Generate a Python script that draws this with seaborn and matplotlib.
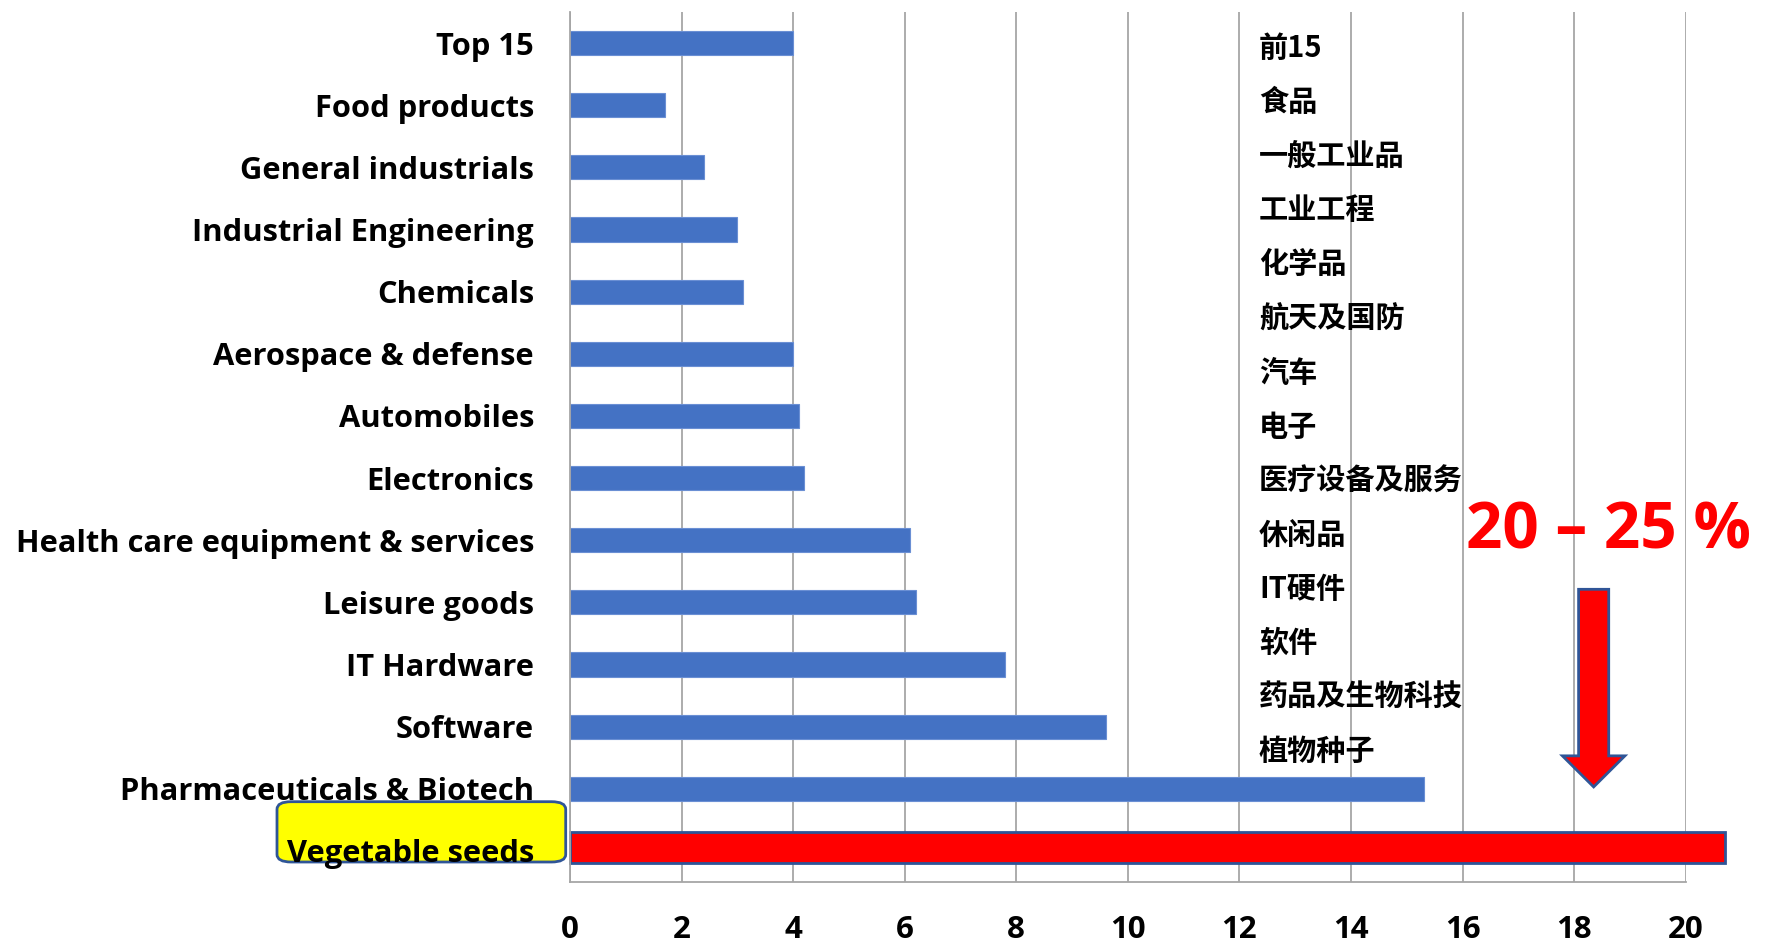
import numpy as np
import matplotlib
matplotlib.use('Agg')
import matplotlib.pyplot as plt
import seaborn as sns
from matplotlib.patches import FancyArrow, FancyBboxPatch

categories = ['Top 15', 'Food products', 'General industrials', 'Industrial Engineering',
              'Chemicals', 'Aerospace & defense', 'Automobiles', 'Electronics',
              'Health care equipment & services', 'Leisure goods', 'IT Hardware',
              'Software', 'Pharmaceuticals & Biotech', 'Vegetable seeds']
values = [4.0, 1.7, 2.4, 3.0, 3.1, 4.0, 4.1, 4.2, 6.1, 6.2, 7.8, 9.6, 15.3, 20.7]
cn_labels = ['前15', '食品', '一般工业品', '工业工程', '化学品', '航天及国防', '汽车', '电子',
             '医疗设备及服务', '休闲品', 'IT硬件', '软件', '药品及生物科技', '植物种子']
x_ticks = [0, 2, 4, 6, 8, 10, 12, 14, 16, 18, 20]
highlight = '20 – 25 %'

sns.set_style('white')
plt.rcParams['font.family'] = ['Open Sans', 'DejaVu Sans']
plt.rcParams['text.color'] = 'black'

W, H = 1769, 943
fig = plt.figure(figsize=(W / 100, H / 100), dpi=100)
ax = fig.add_axes([570 / W, 1 - 882 / H, (1685.7 - 570) / W, (882 - 12) / H])

colors = ['#4472C4'] * (len(categories) - 1) + ['#FF0000']
sns.barplot(x=values, y=categories, hue=categories, palette=colors, legend=False,
            orient='h', width=0.39, saturation=1, ax=ax)

# highlighted bar: thicker, outlined, runs past the last gridline
red = ax.patches[-1]
cy = red.get_y() + red.get_height() / 2
red.set_height(0.5)
red.set_y(cy - 0.25 - 0.06)
red.set_edgecolor('#2F5597')
red.set_linewidth(2)
red.set_clip_on(False)
for p in ax.patches[:-1]:
    p.set_edgecolor('#6A8FD4')
    p.set_linewidth(0.8)

ax.set_xlim(0, 20)
ax.set_ylim(len(categories) - 0.5, -0.5)
ax.set_xticks(x_ticks)
ax.set_xticklabels([str(t) for t in x_ticks], fontsize=22.5, fontweight='bold')
ax.xaxis.grid(True, color='#A6A6A6', linewidth=1.3)
ax.set_axisbelow(True)
ax.tick_params(axis='x', direction='out', length=8, width=1.3, color='#A6A6A6',
               labelcolor='black', pad=16)

ax.set_yticks(range(len(categories)))
ax.set_yticklabels(categories, fontsize=22.2, fontweight='bold')
ax.set_yticks(np.arange(-0.5, len(categories), 1), minor=True)
ax.tick_params(axis='y', which='major', length=0, pad=26, labelcolor='black')
ax.tick_params(axis='y', which='minor', direction='out', length=8, width=1.3, color='#A6A6A6')

for side in ['top', 'right']:
    ax.spines[side].set_visible(False)
for side in ['left', 'bottom']:
    ax.spines[side].set_color('#A6A6A6')
    ax.spines[side].set_linewidth(1.3)
ax.set_xlabel('')
ax.set_ylabel('')

# Chinese label column
for i, lab in enumerate(cn_labels):
    fig.text(1259 / W, 1 - (48 + 54.1 * i) / H, lab, fontsize=21, fontweight='bold',
             family=['Noto Sans CJK SC', 'DejaVu Sans'], ha='left', va='center')

# 20 - 25 % annotation and arrow
fig.text(1608 / W, 1 - 532 / H, highlight, fontsize=46, fontweight='bold',
         color='#FF0000', ha='center', va='center')
ax.add_patch(FancyArrow(18.35, 8.79, 0, 3.18, width=0.54, head_width=1.12,
                        head_length=0.5, length_includes_head=True,
                        facecolor='#FF0000', edgecolor='#2F5597', linewidth=2, zorder=5))

# yellow box behind the last label
box = FancyBboxPatch((277 / W, 1 - 862 / H), (565.7 - 277) / W, (862 - 801.7) / H,
                     boxstyle='round,pad=0,rounding_size=0.008', transform=fig.transFigure,
                     facecolor='#FFFF00', edgecolor='#2F5597', linewidth=2, zorder=-1)
fig.patches.append(box)

fig.savefig('out.png', dpi=100)
